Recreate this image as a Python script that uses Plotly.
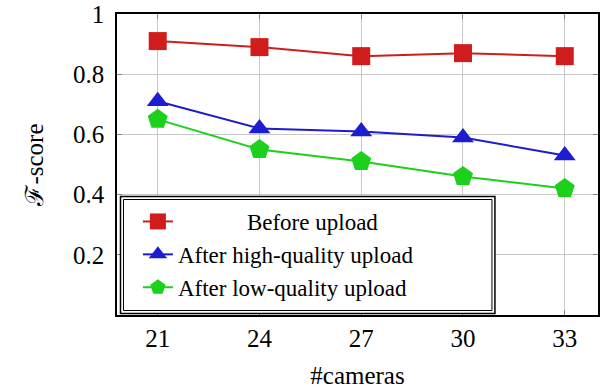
import plotly.graph_objects as go

cameras = [21, 24, 27, 30, 33]
before_upload = [0.91, 0.89, 0.86, 0.87, 0.86]
after_high = [0.71, 0.62, 0.61, 0.59, 0.53]
after_low = [0.65, 0.55, 0.51, 0.46, 0.42]
y_ticks = [0.2, 0.4, 0.6, 0.8, 1]
y_tick_labels = ["0.2", "0.4", "0.6", "0.8", "1"]
x_tick_labels = ["21", "24", "27", "30", "33"]

RED = "#d01c1c"
BLUE = "#1c1cd0"
GREEN = "#1cd01c"
FONT = "Liberation Serif, Times New Roman, serif"

fig = go.Figure()
series = [
    ("\u2002" * 6 + "Before upload", before_upload, RED, "square", 18),
    ("After high-quality upload", after_high, BLUE, "triangle-up", 19),
    ("After low-quality upload", after_low, GREEN, "pentagon", 21),
]
for name, vals, col, sym, sz in series:
    fig.add_trace(go.Scatter(
        x=cameras, y=vals, name=name, mode="lines+markers",
        line=dict(color=col, width=2),
        marker=dict(symbol=sym, size=sz, color=col, line=dict(width=0)),
    ))

W, H = 600, 389
L, R, T, B = 117, 0, 14, 74
pw, ph = W - L - R, H - T - B

def px2paper(x, y):
    return (x - L) / pw, (H - B - y) / ph

# legend box (double border)
x0, y0 = px2paper(120.5, 313.5)
x1, y1 = px2paper(496.5, 196.5)
fig.add_shape(type="rect", xref="paper", yref="paper", x0=x0, y0=y0, x1=x1, y1=y1,
              line=dict(color="black", width=1.5), fillcolor="white", layer="above")
xi0, yi0 = px2paper(123.5, 310.5)
xi1, yi1 = px2paper(493.5, 199.5)
fig.add_shape(type="rect", xref="paper", yref="paper", x0=xi0, y0=yi0, x1=xi1, y1=yi1,
              line=dict(color="black", width=1), fillcolor="rgba(0,0,0,0)", layer="above")

lx, ly = px2paper(138, 200)
fig.update_layout(
    width=W, height=H,
    margin=dict(l=L, r=R, t=T, b=B),
    plot_bgcolor="white", paper_bgcolor="white",
    font=dict(family=FONT, size=25, color="black"),
    showlegend=True,
    legend=dict(x=lx, y=ly, xanchor="left", yanchor="top",
                bgcolor="rgba(0,0,0,0)", borderwidth=0, itemsizing="trace",
                font=dict(family=FONT, size=23), tracegroupgap=0),
    xaxis=dict(range=[19.8, 33.98], tickvals=cameras, ticktext=x_tick_labels,
               showgrid=True, gridcolor="#c8c8c8", gridwidth=1,
               showline=True, linecolor="black", linewidth=1.5, mirror="ticks",
               ticks="inside", ticklen=5, tickcolor="#888888",
               zeroline=False,
               title=dict(text="#cameras", standoff=18, font=dict(size=25))),
    yaxis=dict(range=[0, 1], tickvals=y_ticks, ticktext=y_tick_labels,
               showgrid=True, gridcolor="#c8c8c8", gridwidth=1,
               showline=True, linecolor="black", linewidth=1.5, mirror="ticks",
               ticks="inside", ticklen=5, tickcolor="#888888",
               zeroline=False, ticklabelstandoff=6,
               title=dict(text="\u2131-score", standoff=22, font=dict(size=25))),
)

fig.write_html("out.html")
